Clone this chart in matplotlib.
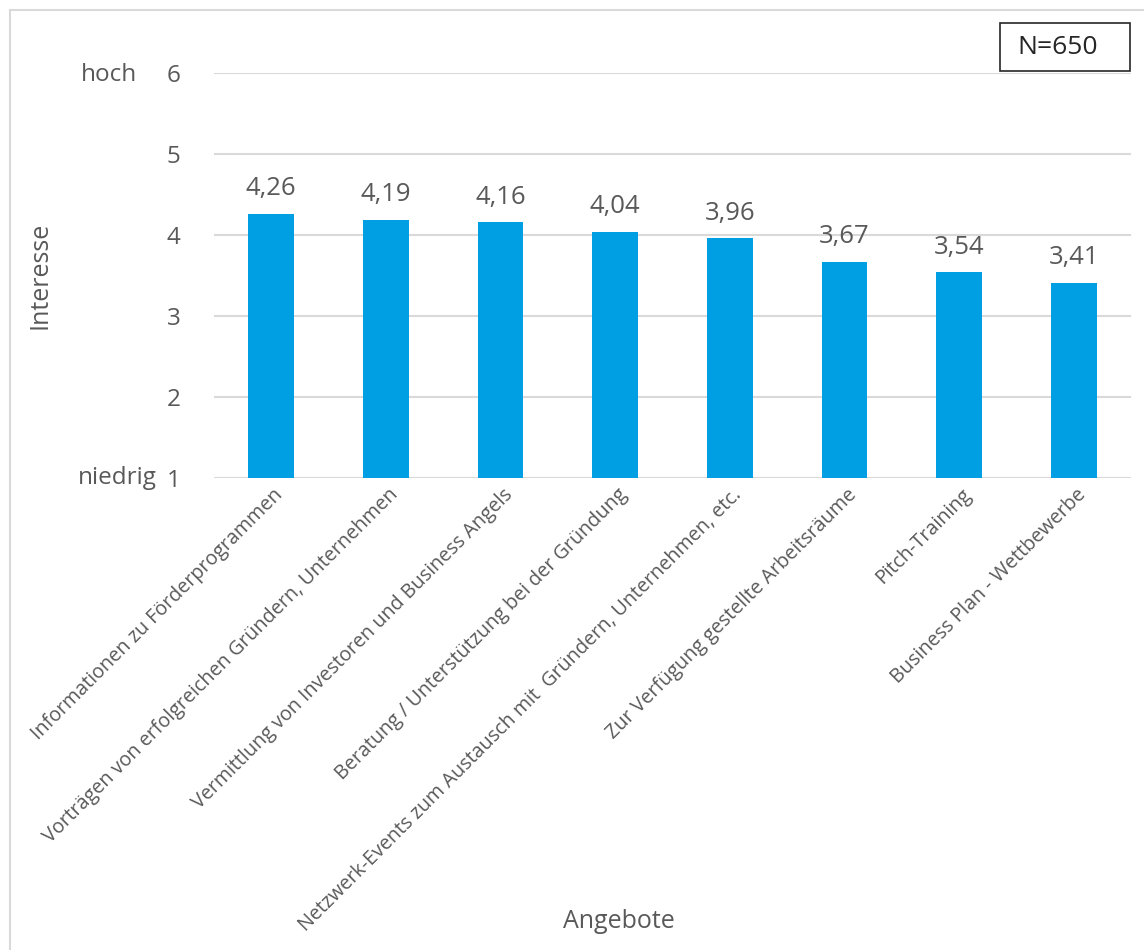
import matplotlib
matplotlib.use("Agg")
import matplotlib.pyplot as plt
from matplotlib.patches import Rectangle
from matplotlib.transforms import ScaledTranslation

plt.rcParams['font.family'] = ['Open Sans', 'DejaVu Sans']

categories = [
    "Informationen zu Förderprogrammen",
    "Vorträgen von erfolgreichen Gründern, Unternehmen",
    "Vermittlung von Investoren und Business Angels",
    "Beratung / Unterstützung bei der Gründung",
    "Netzwerk-Events zum Austausch mit  Gründern, Unternehmen, etc.",
    "Zur Verfügung gestellte Arbeitsräume",
    "Pitch-Training",
    "Business Plan - Wettbewerbe",
]
values = [4.26, 4.19, 4.16, 4.04, 3.96, 3.67, 3.54, 3.41]
yticks = [1, 2, 3, 4, 5, 6]

W, H = 1144, 950
fig = plt.figure(figsize=(W / 100, H / 100), dpi=100)
ax = fig.add_axes([214 / W, 1 - 478 / H, (1131 - 214) / W, (478 - 73) / H])

text_col = "#595959"
bar_col = "#009FE3"

x = list(range(len(categories)))
ax.bar(x, [v - 1 for v in values], bottom=1, width=0.4, color=bar_col, zorder=3)
ax.set_xlim(-0.5, len(categories) - 0.5)
ax.set_ylim(1, 6)
ax.set_yticks(yticks)
ax.set_yticklabels([str(t) for t in yticks])
ax.yaxis.grid(True, color="#D9D9D9", linewidth=1.5, zorder=0)
ax.set_axisbelow(True)
for s in ax.spines.values():
    s.set_visible(False)
ax.tick_params(axis='y', length=0, pad=24, labelsize=17.5, labelcolor=text_col)
ax.tick_params(axis='x', length=0, pad=10, labelsize=14.2, labelcolor=text_col)
ax.set_xticks(x)
ax.set_xticklabels(categories, rotation=45, ha='right', rotation_mode='anchor', va='center')
shift = ScaledTranslation(9 / 100, 0, fig.dpi_scale_trans)
for lbl in ax.get_xticklabels():
    lbl.set_transform(lbl.get_transform() + shift)

for xi, v in zip(x, values):
    ax.annotate(f"{v:.2f}".replace(".", ","), (xi, v), xytext=(0, 9),
                textcoords='offset points', ha='center', va='bottom',
                fontsize=18.5, color=text_col)

# hoch / niedrig labels
fig.text(137 / W, 1 - 75 / H, "hoch", ha='right', va='center', fontsize=17.5, color=text_col)
fig.text(157 / W, 1 - 478 / H, "niedrig", ha='right', va='center', fontsize=17.5, color=text_col)

# axis titles
fig.text(40 / W, 1 - 275 / H, "Interesse", ha='center', va='center', rotation=90,
         fontsize=18, color=text_col)
fig.text(619 / W, 1 - 921 / H, "Angebote", ha='center', va='center',
         fontsize=18, color=text_col)

# N box
fig.patches.append(Rectangle((1000 / W, 1 - 71 / H), 130 / W, 48 / H,
                             transform=fig.transFigure, fill=False,
                             edgecolor="#262626", linewidth=1.2))
fig.text(1058 / W, 1 - 48 / H, "N=650", ha='center', va='center', fontsize=19, color="#262626")

# outer frame
fig.patches.append(Rectangle((10 / W, -0.05), 1.1, 1 - 10 / H + 0.05,
                             transform=fig.transFigure, fill=False,
                             edgecolor="#D9D9D9", linewidth=1.5))

fig.savefig("out.png", dpi=100)
